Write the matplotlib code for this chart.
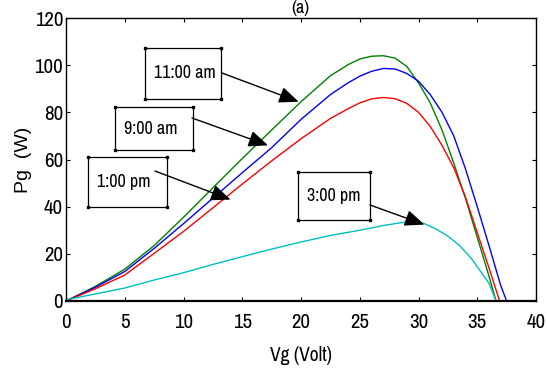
import matplotlib
matplotlib.use('Agg')
import matplotlib.pyplot as plt
from matplotlib.patches import Rectangle

plt.rcParams['font.family'] = ['Archivo Narrow', 'Liberation Sans', 'DejaVu Sans']

# 11:00 am (green)
v_11am = [0, 2.5, 5, 7.5, 10, 12.5, 15, 17.5, 20, 22.5, 24, 25, 26, 27, 28, 29, 30, 31, 32, 33, 34, 35, 36, 36.6]
p_11am = [0, 6.2, 13.5, 23.5, 35.5, 48, 60.4, 72.5, 84.5, 95.5, 100.2, 102.6, 103.8, 104, 103, 99.5, 92.5, 84, 72.5, 58.5, 43.5, 27, 10.5, 0]

# 9:00 am (blue)
v_9am = [0, 2.5, 5, 7.5, 10, 12.5, 15, 17.5, 20, 22.5, 24, 25, 26, 27, 28, 29, 30, 31, 32, 33, 34, 35, 36, 37, 37.5]
p_9am = [0, 5.8, 12.5, 22.3, 32.8, 43.6, 54.4, 65, 77, 87.5, 92.5, 95.3, 97.4, 98.6, 98.4, 96.5, 93.2, 87.5, 80, 70, 56, 40, 23.5, 6.5, 0]

# 1:00 pm (red)
v_1pm = [0, 2.5, 5, 7.5, 10, 12.5, 15, 17.5, 20, 22.5, 24, 25, 26, 27, 28, 29, 30, 31, 32, 33, 34, 35, 36, 36.9]
p_1pm = [0, 5.2, 11, 20.2, 29.5, 39.5, 49.6, 59.4, 68.8, 77.4, 81.5, 84, 85.7, 86.3, 85.8, 83.8, 80, 74, 66, 56.5, 44, 29, 14, 0]

# 3:00 pm (cyan)
v_3pm = [0, 2.5, 5, 7.5, 10, 12.5, 15, 17.5, 20, 22.5, 25, 27, 28.5, 29.5, 30.5, 31.5, 32.5, 33.5, 34.5, 35.5, 36, 36.6]
p_3pm = [0.5, 3, 5.5, 8.9, 12, 15.5, 18.8, 22, 25, 27.8, 30, 32, 33.2, 33.6, 32.8, 30.5, 27.5, 23.5, 18, 11, 7.5, 0]

x_ticks = [0, 5, 10, 15, 20, 25, 30, 35, 40]
y_ticks = [0, 20, 40, 60, 80, 100, 120]

W, H = 547, 372
fig = plt.figure(figsize=(W / 100, H / 100), dpi=100)
ax = fig.add_axes([66 / W, 1 - 301 / H, (536 - 66) / W, (301 - 18) / H])

ax.plot(v_11am, p_11am, color=(0, 0.5, 0), lw=1.0)
ax.plot(v_9am, p_9am, color=(0, 0, 1), lw=1.0)
ax.plot(v_1pm, p_1pm, color=(1, 0, 0), lw=1.0)
ax.plot(v_3pm, p_3pm, color=(0, 0.75, 0.75), lw=1.0)

ax.set_xlim(0, 40)
ax.set_ylim(0, 120)
ax.set_xticks(x_ticks)
ax.set_yticks(y_ticks)
ax.tick_params(direction='in', length=3, width=0.8, top=True, right=True, labelsize=15)
ax.tick_params(axis='x', pad=9)
ax.tick_params(axis='y', pad=2)
for s in ax.spines.values():
    s.set_linewidth(1.0)
ax.spines['bottom'].set_linewidth(1.6)

ax.set_xlabel('Vg (Volt)', fontsize=14, labelpad=10)
ax.set_ylabel('Pg  (W)', fontsize=14, family=['Liberation Sans', 'DejaVu Sans'], labelpad=2)
fig.text(300 / W, 1 - 16 / H, '(a)', fontsize=13, ha='center', va='bottom')


def fx(x):
    return x / W


def fy(y):
    return 1 - y / H


# annotation boxes: (label, box x0, y0, x1, y1 in pixels, arrow start px, arrow tip in data)
notes = [
    ('11:00 am', (145, 48, 221, 99), (222, 73), (19.8, 84.5)),
    ('9:00 am', (115, 107, 193, 150), (192, 118), (17.2, 66.0)),
    ('1:00 pm', (88, 157, 167, 207), (155, 171), (14.0, 43.0)),
    ('3:00 pm', (298, 172, 370, 220), (370, 205), (30.5, 32.4)),
]
for label, (x0, y0, x1, y1), start, tip in notes:
    fig.patches.append(Rectangle((fx(x0), fy(y1)), fx(x1 - x0), (y1 - y0) / H,
                                 transform=fig.transFigure, fill=False,
                                 edgecolor='black', lw=0.9))
    fig.text(fx(x0 + 9), fy((y0 + y1) / 2), label, fontsize=13, ha='left', va='center')
    for cx, cy in [(x0, y0), (x1, y0), (x0, y1), (x1, y1)]:
        fig.lines.append(plt.Line2D([fx(cx)], [fy(cy)], transform=fig.transFigure,
                                    marker='s', markersize=1.5, color='black'))
    ax.annotate('', xy=tip, xycoords='data',
                xytext=(fx(start[0]), fy(start[1])), textcoords='figure fraction',
                arrowprops=dict(arrowstyle='-|>,head_length=1.2,head_width=0.5',
                                mutation_scale=10, color='black', lw=1.0,
                                shrinkA=0, shrinkB=0))

fig.savefig('out.png', dpi=100)
